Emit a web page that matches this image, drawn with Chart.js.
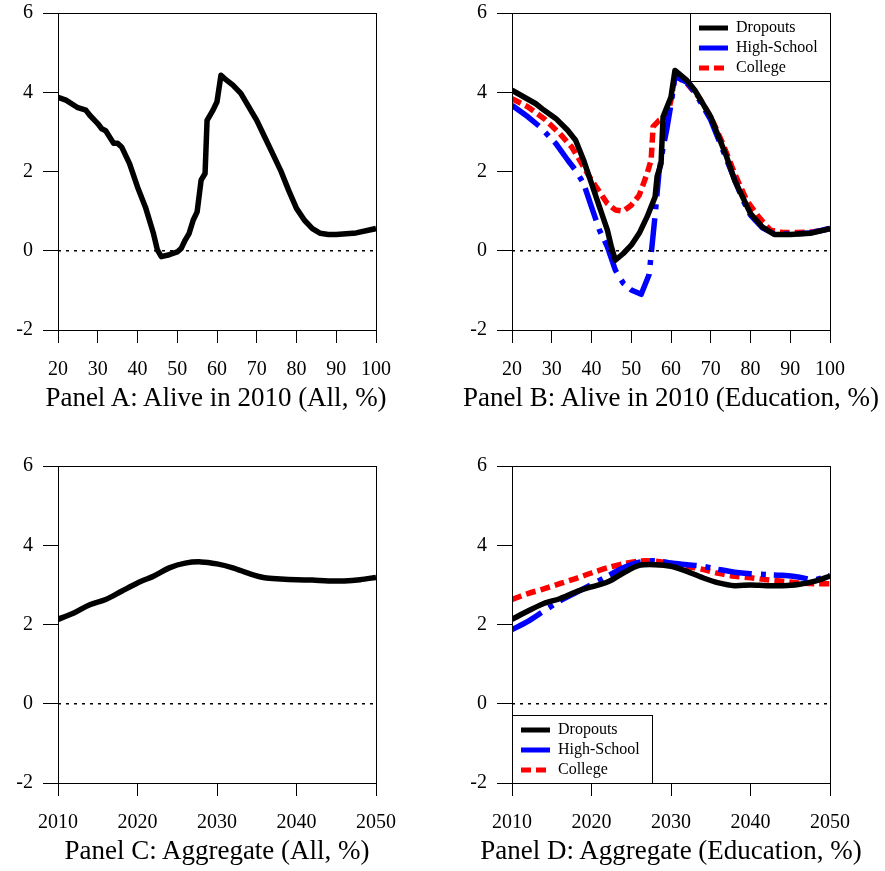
<!DOCTYPE html>
<html>
<head>
<meta charset="utf-8">
<script src="https://cdn.jsdelivr.net/npm/chart.js@4.4.1/dist/chart.umd.min.js"></script>
<style>
  body { margin: 0; background: #fff; width: 885px; height: 871px; position: relative; overflow: hidden; font-family: "Liberation Serif", serif; }
  .panel { position: absolute; width: 431px; height: 418px; }
  .title { position: absolute; font-size: 27px; line-height: 30px; color: #000; white-space: nowrap; transform: translateX(-50%); }
</style>
</head>
<body>
<canvas id="cA" class="panel" width="431" height="418" style="left:0;top:0"></canvas>
<canvas id="cB" class="panel" width="431" height="418" style="left:454px;top:0"></canvas>
<canvas id="cC" class="panel" width="431" height="418" style="left:0;top:453px"></canvas>
<canvas id="cD" class="panel" width="431" height="418" style="left:454px;top:453px"></canvas>
<div class="title" style="left:216px;top:382px">Panel A: Alive in 2010 (All, %)</div>
<div class="title" style="left:671px;top:382px">Panel B: Alive in 2010 (Education, %)</div>
<div class="title" style="left:217px;top:835px">Panel C: Aggregate (All, %)</div>
<div class="title" style="left:671px;top:835px">Panel D: Aggregate (Education, %)</div>
<script>
// panel A: everyone alive in 2010, by age
const ageA = [20, 22, 25, 27, 28, 30, 31, 32, 34, 35, 36, 38, 40, 42, 44, 45, 46, 48, 50, 51, 52, 53, 54, 55, 56, 57, 57.5, 59, 60, 61, 62, 64, 66, 68, 70, 72, 74, 76, 78, 80, 82, 84, 86, 88, 90, 95, 100];
const allA = [3.87, 3.80, 3.61, 3.55, 3.42, 3.21, 3.08, 3.03, 2.71, 2.71, 2.62, 2.20, 1.61, 1.10, 0.44, 0.02, -0.15, -0.10, -0.03, 0.06, 0.27, 0.44, 0.77, 0.98, 1.78, 1.95, 3.29, 3.55, 3.76, 4.43, 4.34, 4.18, 3.97, 3.63, 3.29, 2.87, 2.45, 2.03, 1.53, 1.07, 0.77, 0.56, 0.44, 0.41, 0.41, 0.45, 0.56];

// panel B: by education
const ageDrop = [20, 23, 26, 28, 31, 34, 36, 38, 40, 42, 44, 45, 46, 48, 50, 52, 54, 56, 56.5, 57.5, 58, 60, 61, 64, 66, 70, 72, 74, 76, 78, 80, 83, 86, 90, 95, 100];
const dropB = [4.05, 3.88, 3.71, 3.55, 3.34, 3.04, 2.79, 2.29, 1.70, 1.11, 0.52, 0.10, -0.24, -0.07, 0.14, 0.44, 0.86, 1.36, 1.87, 2.20, 3.38, 3.88, 4.55, 4.30, 4.05, 3.38, 2.87, 2.37, 1.78, 1.36, 0.94, 0.60, 0.41, 0.41, 0.44, 0.56];
const ageHigh = [20, 24, 27, 31, 34, 36, 38, 40, 42, 44, 46, 48, 50, 52.5, 54.5, 56, 57, 58, 59, 60, 61, 64, 66, 70, 74, 78, 80, 83, 86, 90, 95, 100];
const highB = [3.67, 3.38, 3.13, 2.71, 2.29, 2.03, 1.70, 1.11, 0.52, 0.10, -0.49, -0.82, -0.99, -1.10, -0.60, 0.90, 2.00, 2.60, 3.10, 3.70, 4.40, 4.25, 4.00, 3.30, 2.30, 1.30, 0.90, 0.58, 0.42, 0.42, 0.45, 0.56];
const ageColl = [20, 24, 28, 32, 35, 37, 40, 42, 44, 46, 48, 50, 52, 54, 55, 55.5, 57, 59, 60, 61, 64, 67, 70, 73, 76, 79, 82, 85, 88, 92, 96, 100];
const collB = [3.84, 3.63, 3.34, 2.96, 2.62, 2.29, 1.78, 1.49, 1.19, 1.03, 1.00, 1.15, 1.40, 1.95, 2.29, 3.13, 3.29, 3.38, 3.80, 4.43, 4.22, 3.88, 3.38, 2.71, 1.95, 1.28, 0.86, 0.52, 0.46, 0.46, 0.48, 0.56];

// panels C and D: aggregate by year
const years = [2010, 2012, 2014, 2016, 2018, 2020, 2022, 2024, 2026, 2028, 2030, 2032, 2034, 2036, 2038, 2040, 2042, 2044, 2046, 2048, 2050];
const allC = [2.13, 2.29, 2.50, 2.63, 2.84, 3.05, 3.22, 3.43, 3.55, 3.58, 3.53, 3.43, 3.29, 3.18, 3.15, 3.13, 3.12, 3.10, 3.10, 3.13, 3.19];
const dropD = [2.13, 2.34, 2.53, 2.65, 2.82, 2.95, 3.07, 3.30, 3.49, 3.51, 3.47, 3.34, 3.18, 3.05, 2.98, 3.00, 2.98, 2.98, 3.01, 3.09, 3.22];
const highD = [1.87, 2.08, 2.34, 2.59, 2.80, 3.01, 3.22, 3.43, 3.57, 3.61, 3.55, 3.51, 3.47, 3.39, 3.32, 3.28, 3.26, 3.24, 3.20, 3.13, 3.24];
const collD = [2.63, 2.78, 2.90, 3.03, 3.16, 3.30, 3.43, 3.53, 3.60, 3.60, 3.54, 3.47, 3.39, 3.29, 3.22, 3.18, 3.13, 3.09, 3.05, 3.03, 3.03];

const yTicks = [-2, 0, 2, 4, 6];
const seriesNames = ['Dropouts', 'High-School', 'College'];

const FONT = 'Liberation Serif';
const pts = (xs, ys) => xs.map((x, i) => ({ x: x, y: ys[i] }));

const styles = {
  black: { borderColor: '#000', borderWidth: 5.5 },
  blue: { borderColor: '#0000ff', borderWidth: 5.5, borderDash: [34, 9, 5, 8] },
  red: { borderColor: '#ff0000', borderWidth: 5.5, borderDash: [10, 5] }
};

// frame round the plot area
const frame = {
  id: 'frame',
  afterDraw(chart) {
    const ca = chart.chartArea, ctx = chart.ctx;
    ctx.save();
    ctx.strokeStyle = '#000';
    ctx.lineWidth = 1;
    ctx.strokeRect(Math.round(ca.left) + 0.5, Math.round(ca.top) + 0.5, Math.round(ca.right - ca.left), Math.round(ca.bottom - ca.top));
    ctx.restore();
  }
};

// boxed legend inside the plot
const boxLegend = {
  id: 'boxLegend',
  afterDraw(chart, args, opts) {
    if (!opts.corner) return;
    const ca = chart.chartArea, ctx = chart.ctx;
    const w = 140, h = 68;
    const x0 = Math.round(opts.corner === 'topright' ? ca.right - w : ca.left);
    const y0 = Math.round(opts.corner === 'topright' ? ca.top : ca.bottom - h);
    ctx.save();
    ctx.fillStyle = '#fff';
    ctx.fillRect(x0, y0, w, h);
    ctx.strokeStyle = '#000';
    ctx.lineWidth = 1;
    ctx.strokeRect(x0 + 0.5, y0 + 0.5, w, h);
    const items = chart.data.datasets.filter(d => d.label);
    items.forEach((d, i) => {
      const y = y0 + 15 + i * 20;
      ctx.beginPath();
      ctx.strokeStyle = d.borderColor;
      ctx.lineWidth = 5;
      ctx.setLineDash(d.borderDash || []);
      ctx.moveTo(x0 + 9, y);
      ctx.lineTo(x0 + 38, y);
      ctx.stroke();
      ctx.setLineDash([]);
      ctx.fillStyle = '#000';
      ctx.font = '16px "' + FONT + '"';
      ctx.textBaseline = 'middle';
      ctx.fillText(d.label, x0 + 46, y);
    });
    ctx.restore();
  }
};

function makePanel(id, xMin, xMax, series, legendCorner, tension) {
  const zero = {
    data: [{ x: xMin, y: 0 }, { x: xMax, y: 0 }],
    borderColor: '#000', borderWidth: 1.3, borderDash: [3, 5]
  };
  const datasets = [zero].concat(series.map(s => Object.assign({
    label: s.label, data: s.data, tension: tension || 0, pointRadius: 0,
    borderCapStyle: 'butt', borderJoinStyle: 'round'
  }, styles[s.style])));
  new Chart(document.getElementById(id), {
    type: 'line',
    data: { datasets: datasets },
    options: {
      responsive: false,
      animation: false,
      devicePixelRatio: 1,
      layout: { padding: { top: 13, right: 55, left: 0, bottom: 0 } },
      elements: { point: { radius: 0 } },
      plugins: {
        legend: { display: false },
        tooltip: { enabled: false },
        boxLegend: { corner: legendCorner }
      },
      scales: {
        x: {
          type: 'linear', min: xMin, max: xMax,
          afterFit: s => { s.height = 88; s.paddingLeft = 0; s.paddingRight = 0; },
          afterBuildTicks: s => {
            s.ticks = [];
            for (let v = xMin; v <= xMax; v += 10) s.ticks.push({ value: v });
          },
          ticks: { color: '#000', font: { family: FONT, size: 20 }, padding: 15, maxRotation: 0, callback: v => String(v) },
          grid: { drawOnChartArea: false, drawTicks: true, tickLength: 13, color: '#000' },
          border: { display: true, color: '#000', width: 1 }
        },
        y: {
          min: -2, max: 6,
          afterFit: s => { s.width = 58; s.paddingTop = 0; s.paddingBottom = 0; },
          afterBuildTicks: s => { s.ticks = yTicks.map(v => ({ value: v })); },
          ticks: { color: '#000', font: { family: FONT, size: 20 }, padding: 10, callback: v => String(v) },
          grid: { drawOnChartArea: false, drawTicks: true, tickLength: 15, color: '#000' },
          border: { display: true, color: '#000', width: 1 }
        }
      }
    },
    plugins: [frame, boxLegend]
  });
}

makePanel('cA', 20, 100, [
  { data: pts(ageA, allA), style: 'black' }
]);
makePanel('cB', 20, 100, [
  { label: seriesNames[0], data: pts(ageDrop, dropB), style: 'black' },
  { label: seriesNames[1], data: pts(ageHigh, highB), style: 'blue' },
  { label: seriesNames[2], data: pts(ageColl, collB), style: 'red' }
], 'topright');
makePanel('cC', 2010, 2050, [
  { data: pts(years, allC), style: 'black' }
], null, 0.3);
makePanel('cD', 2010, 2050, [
  { label: seriesNames[0], data: pts(years, dropD), style: 'black' },
  { label: seriesNames[1], data: pts(years, highD), style: 'blue' },
  { label: seriesNames[2], data: pts(years, collD), style: 'red' }
], 'bottomleft', 0.3);
</script>
</body>
</html>
